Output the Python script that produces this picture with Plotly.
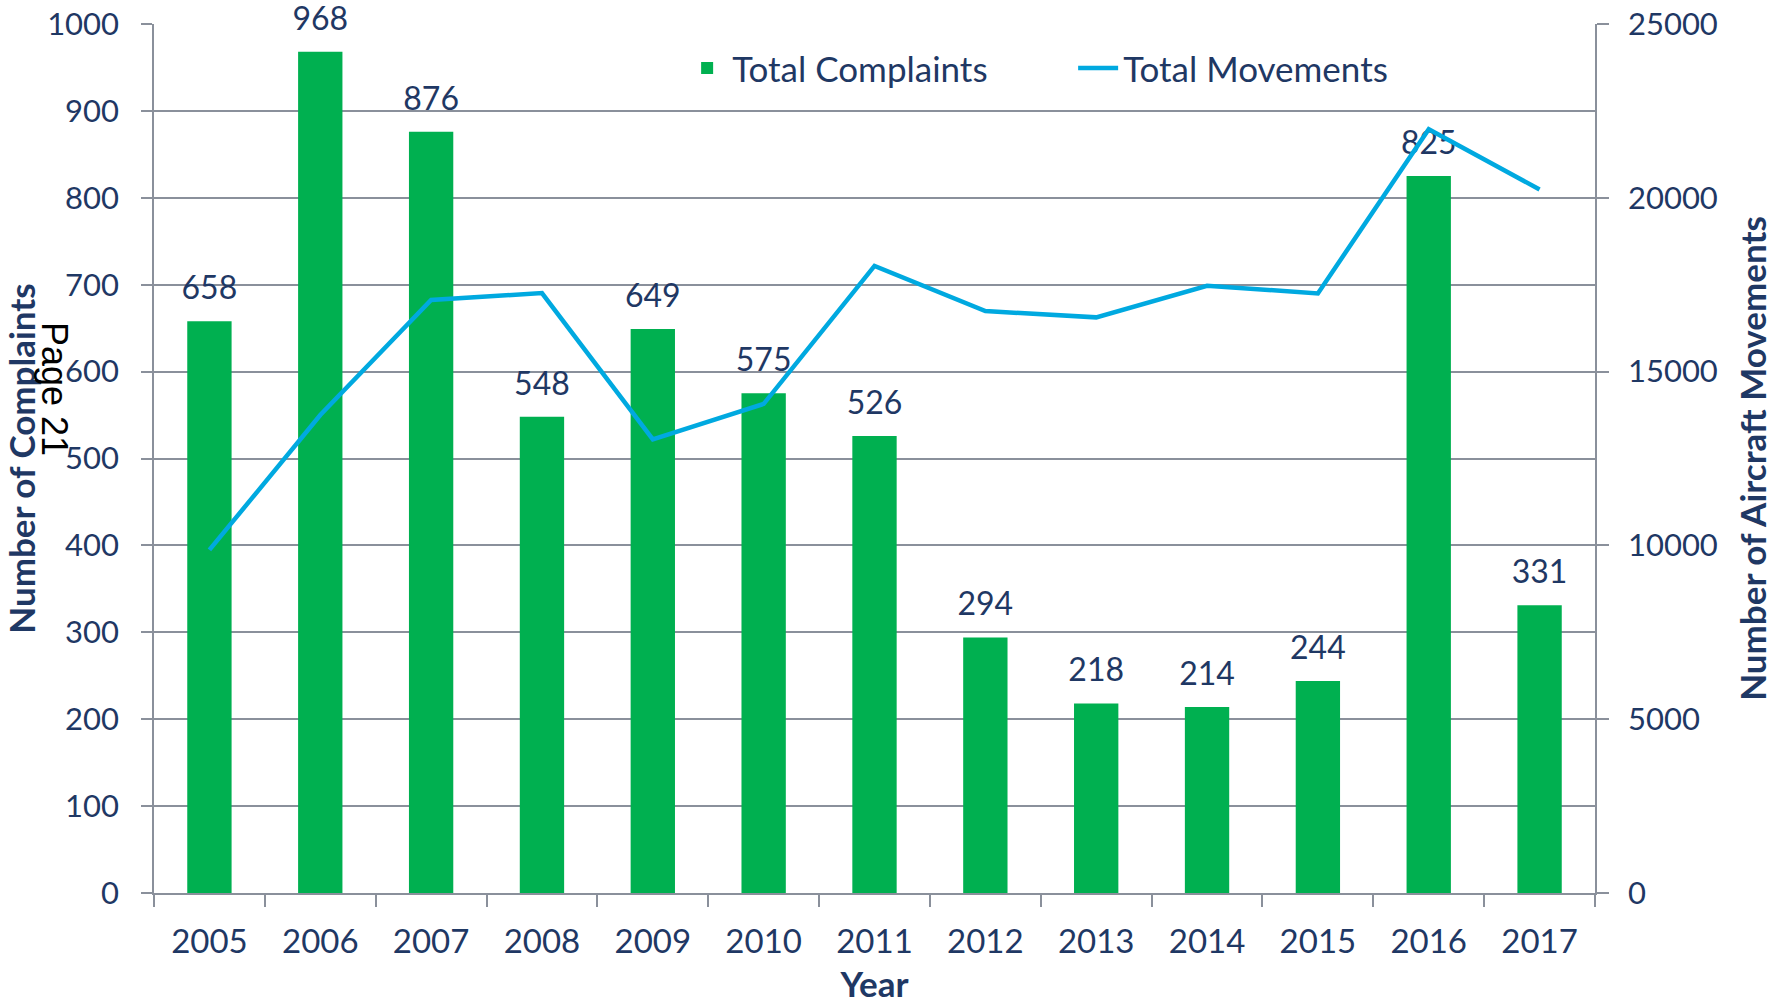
import plotly.graph_objects as go

years = ["2005", "2006", "2007", "2008", "2009", "2010", "2011",
         "2012", "2013", "2014", "2015", "2016", "2017"]
complaints = [658, 968, 876, 548, 649, 575, 526, 294, 218, 214, 244, 825, 331]
movements = [9870, 13750, 17060, 17260, 13050, 14070, 18040,
             16740, 16560, 17470, 17250, 21970, 20240]

NAVY = "#1F3864"
GRID = "#8A909B"
GREEN = "#00B050"
BLUE = "#00A9E0"
FONT = "Lato"

fig = go.Figure()
fig.add_trace(go.Bar(
    x=years, y=complaints, name="Total Complaints",
    marker=dict(color=GREEN, line=dict(width=0)),
    yaxis="y",
))
fig.add_trace(go.Scatter(
    x=years, y=movements, name="Total Movements",
    mode="lines", line=dict(color=BLUE, width=4.5),
    yaxis="y2",
))
# data labels above the bars
fig.add_trace(go.Scatter(
    x=years, y=complaints, mode="markers+text", text=[str(v) for v in complaints],
    textposition="top center", marker=dict(size=21, opacity=0),
    textfont=dict(family=FONT, size=32, color=NAVY),
    showlegend=False, hoverinfo="skip", yaxis="y", cliponaxis=False,
))

fig.add_annotation(x=-0.085, y=0.580, xref="paper", yref="paper",
                   text="Page 21", showarrow=False, textangle=90,
                   font=dict(family="Liberation Sans", size=36, color="black"))

fig.update_layout(
    width=1773, height=1004,
    margin=dict(l=154, r=178, t=24, b=111, autoexpand=False),
    plot_bgcolor="white", paper_bgcolor="white",
    font=dict(family=FONT, size=31, color=NAVY),
    bargap=0.6,
    showlegend=True,
    legend=dict(orientation="h", x=0.3665, y=0.949, xanchor="left", yanchor="middle",
                bgcolor="rgba(0,0,0,0)", font=dict(family=FONT, size=35, color=NAVY),
                itemwidth=40, entrywidth=336, entrywidthmode="pixels"),
    xaxis=dict(
        type="category", categoryorder="array", categoryarray=years,
        range=[-0.5, 12.5], tickson="boundaries", ticks="outside", ticklen=12,
        tickcolor=GRID, tickwidth=1.5, showline=True, linecolor=GRID, linewidth=1.5,
        showgrid=False, tickangle=0, tickfont=dict(family=FONT, size=33, color=NAVY),
        ticklabelstandoff=19,
        title=dict(text="<b>Year</b>", font=dict(family=FONT, size=35, color=NAVY), standoff=17),
    ),
    yaxis=dict(
        range=[0, 1000], dtick=100, tick0=0, showgrid=True, gridcolor=GRID, gridwidth=1.5,
        ticks="outside", ticklen=11, tickcolor=GRID, tickwidth=1.5,
        showline=True, linecolor=GRID, linewidth=1.5, zeroline=False,
        tickfont=dict(family=FONT, size=31, color=NAVY), ticklabelstandoff=16,
        ticklabeloverflow="allow",
        title=dict(text="<b>Number of Complaints</b>", font=dict(family=FONT, size=35, color=NAVY), standoff=31),
    ),
    yaxis2=dict(
        range=[0, 25000], dtick=5000, tick0=0, tickformat="d", overlaying="y", side="right",
        showgrid=False, ticks="outside", ticklen=12, tickcolor=GRID, tickwidth=1.5,
        showline=True, linecolor=GRID, linewidth=1.5, zeroline=False,
        tickfont=dict(family=FONT, size=31, color=NAVY), ticklabelstandoff=13,
        ticklabeloverflow="allow",
        title=dict(text="<b>Number of Aircraft Movements</b>", font=dict(family=FONT, size=35, color=NAVY), standoff=25),
    ),
)

fig.write_html("out.html", config={"displayModeBar": False},
               post_script="document.body.style.margin='0';")
